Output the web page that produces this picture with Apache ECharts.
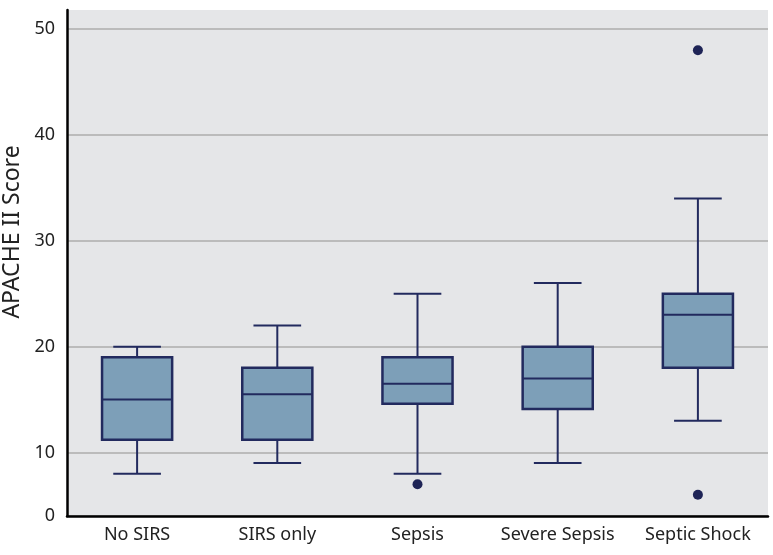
<!DOCTYPE html>
<html>
<head>
<meta charset="utf-8">
<script src="https://cdn.jsdelivr.net/npm/echarts@6/dist/echarts.min.js"></script>
<style>
  html, body { margin: 0; padding: 0; background: #fff; }
  #chart { width: 773px; height: 555px; }
</style>
</head>
<body>
<div id="chart"></div>
<script>
// groups on the x axis
const categories = ['No SIRS', 'SIRS only', 'Sepsis', 'Severe Sepsis', 'Septic Shock']
// [low whisker, Q1, median, Q3, high whisker]
const lowWhisker = [8, 9, 8, 9, 13]
const q1 = [11.2, 11.2, 14.6, 14.1, 18]
const median = [15, 15.5, 16.5, 17, 23]
const q3 = [19, 18, 19, 20, 25]
const highWhisker = [20, 22, 25, 26, 34]
// outliers as [category index, value]
const outliers = [[2, 7], [4, 48], [4, 6]]
// tick values on y axis (bottom tick is labelled 0 on the original)
const yTicks = [4, 10, 20, 30, 40, 50]

const boxData = categories.map((c, i) => [i, lowWhisker[i], q1[i], median[i], q3[i], highWhisker[i]])

const lineColor = '#222a5e'
const fillColor = '#7d9fb8'

function renderBox(params, api) {
  const x = api.value(0)
  const band = api.size([1, 0])[0]
  const boxW = band * 0.5
  const capW = band * 0.34
  const pLow = api.coord([x, api.value(1)])
  const pQ1 = api.coord([x, api.value(2)])
  const pMed = api.coord([x, api.value(3)])
  const pQ3 = api.coord([x, api.value(4)])
  const pHigh = api.coord([x, api.value(5)])
  const cx = pMed[0]
  const stroke = { stroke: lineColor, lineWidth: 2 }
  return {
    type: 'group',
    children: [
      { type: 'line', shape: { x1: cx, y1: pHigh[1], x2: cx, y2: pQ3[1] }, style: stroke },
      { type: 'line', shape: { x1: cx, y1: pQ1[1], x2: cx, y2: pLow[1] }, style: stroke },
      { type: 'line', shape: { x1: cx - capW / 2, y1: pHigh[1], x2: cx + capW / 2, y2: pHigh[1] }, style: stroke },
      { type: 'line', shape: { x1: cx - capW / 2, y1: pLow[1], x2: cx + capW / 2, y2: pLow[1] }, style: stroke },
      {
        type: 'rect',
        shape: { x: cx - boxW / 2, y: pQ3[1], width: boxW, height: pQ1[1] - pQ3[1] },
        style: { fill: fillColor, stroke: lineColor, lineWidth: 2.5 },
      },
      { type: 'line', shape: { x1: cx - boxW / 2, y1: pMed[1], x2: cx + boxW / 2, y2: pMed[1] }, style: stroke },
    ],
  }
}

const chart = echarts.init(document.getElementById('chart'))
chart.setOption({
  animation: false,
  textStyle: { fontFamily: 'Noto Sans' },
  grid: {
    left: 67,
    right: 5,
    top: 10,
    bottom: 39,
    outerBoundsMode: 'none',
    containLabel: false,
    show: true,
    backgroundColor: '#e5e6e8',
    borderWidth: 0,
  },
  xAxis: {
    type: 'category',
    data: categories,
    axisLine: { lineStyle: { color: '#000', width: 2.5 } },
    axisTick: { show: false },
    axisLabel: { color: '#222', fontSize: 18, margin: 10, interval: 0, fontFamily: 'Noto Sans' },
  },
  yAxis: {
    type: 'value',
    min: 4,
    max: 51.8,
    name: 'APACHE II Score',
    nameLocation: 'middle',
    nameGap: 31,
    nameTextStyle: { color: '#222', fontSize: 23, fontFamily: 'Noto Sans', padding: [0, 0, 0, 62] },
    axisLine: { show: true, lineStyle: { color: '#000', width: 2.5 } },
    axisTick: { show: false, customValues: yTicks },
    axisLabel: {
      color: '#222',
      fontSize: 18,
      margin: 12,
      fontFamily: 'Noto Sans',
      customValues: yTicks,
      formatter: v => (v === 4 ? '0' : String(v)),
    },
    splitLine: { show: true, lineStyle: { color: '#adadad', width: 1.5 } },
  },
  series: [
    {
      type: 'custom',
      renderItem: renderBox,
      encode: { x: 0, y: [1, 2, 3, 4, 5] },
      data: boxData,
    },
    {
      type: 'scatter',
      data: outliers,
      symbolSize: 10,
      itemStyle: { color: '#1e2456', opacity: 1 },
    },
  ],
})
</script>
</body>
</html>
